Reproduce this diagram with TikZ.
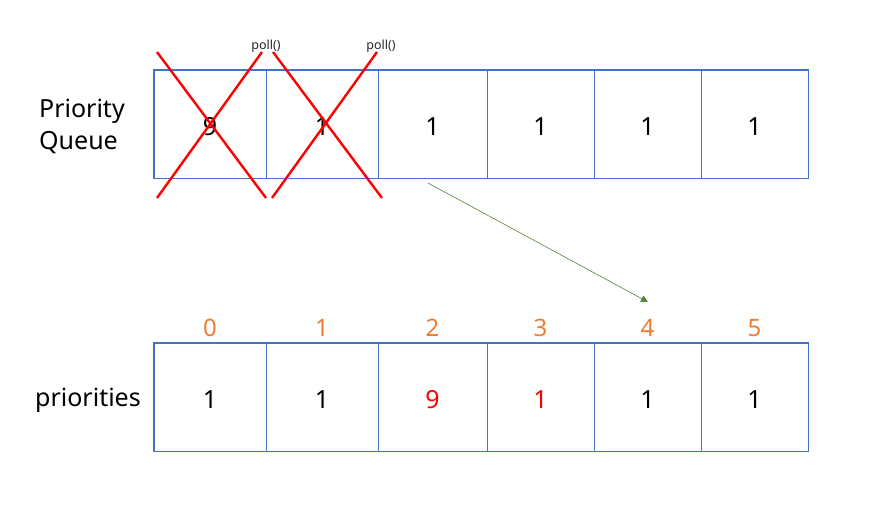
\documentclass[tikz,border=0pt]{standalone}
\usepackage{fontspec}
\setmainfont{Noto Sans}
\usepackage{xcolor}
\usetikzlibrary{arrows.meta, positioning}
\definecolor{cellblue}{HTML}{4472C4}
\definecolor{idxorange}{HTML}{ED7D31}
\definecolor{arrowgreen}{HTML}{548235}

\begin{document}
\begin{tikzpicture}[
    x=1pt,  % 1 unit = 1 px of the layout
    y=-1pt, % y grows downwards
    >=Triangle,
    cell/.style={draw=cellblue, line width=0.8pt, minimum height=108pt, inner sep=0pt, text height=22pt, text depth=0pt, font=\fontsize{25}{30}\selectfont},
    idx/.style={text=idxorange, font=\fontsize{24}{28}\selectfont, inner sep=0pt},
    lbl/.style={anchor=west, align=left, inner sep=0pt, font=\fontsize{25}{32}\selectfont},
    cross/.style={red, line width=2.4pt},
    pollnote/.style={font=\fontsize{12.5}{15}\selectfont, text=black!85, inner sep=0pt}
]
    \useasboundingbox (0,0) rectangle (871,515);

    % --- Priority Queue ---
    \foreach \l/\r/\v [count=\i] in {154/266/9, 266/378/1, 378/487/1, 487/594/1, 594/701/1, 701/808/1} {
        \node[cell, minimum width={\r pt-\l pt}] (q\i) at ({(\l+\r)/2}, 124) {\v};
    }
    \draw[cellblue, line width=1.8pt] (q1.north west) rectangle (q6.south east);
    \node[lbl] (pqlabel) at (39, 126) {Priority\\Queue};

    % --- priorities ---
    \foreach \l/\r/\v/\c [count=\i] in {154/266/1/black, 266/378/1/black, 378/487/9/red, 487/594/1/red, 594/701/1/black, 701/808/1/black} {
        \node[cell, minimum width={\r pt-\l pt}, text=\c] (p\i) at ({(\l+\r)/2}, 397) {\v};
    }
    \draw[cellblue, line width=1.8pt] (p1.north west) rectangle (p6.south east);
    \node[lbl] (prlabel) at (35, 400) {priorities};

    % --- indices ---
    \foreach \i [evaluate=\i as \j using int(\i+1)] in {0,...,5} {
        \node[idx] (i\i) at ([yshift=15pt]p\j.north) {\i};
    }

    % --- poll() x 2 ---
    \draw[cross] (157, 52) -- (266, 198);
    \draw[cross] (262, 52) -- (157, 198);
    \draw[cross] (273, 52) -- (382, 198);
    \draw[cross] (377, 52) -- (272, 198);
    \node[pollnote] (poll1) at (266, 46) {poll()};
    \node[pollnote] (poll2) at (381, 46) {poll()};

    % --- arrow ---
    \coordinate (from) at (428, 183);
    \coordinate (to) at (648, 302);
    \draw[->, arrowgreen, line width=0.6pt, arrows={-Triangle[length=7pt, width=7pt]}] (from) -- (to);
\end{tikzpicture}
\end{document}
